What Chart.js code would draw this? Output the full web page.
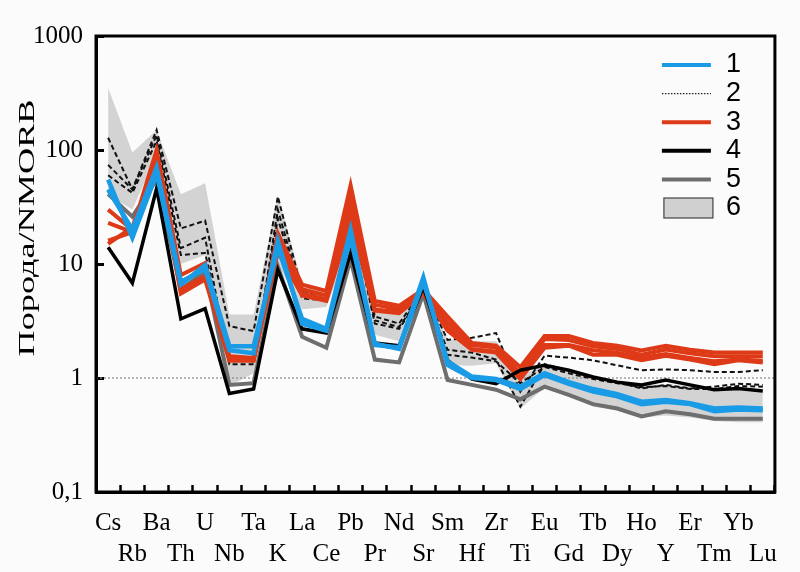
<!DOCTYPE html>
<html>
<head>
<meta charset="utf-8">
<title>Порода/NMORB</title>
<script src="https://cdn.jsdelivr.net/npm/chart.js@4.4.1/dist/chart.umd.min.js"></script>
<style>
  html, body { margin: 0; padding: 0; background: #fbfbfb; }
  #wrap { width: 800px; height: 572px; }
</style>
</head>
<body>
<div id="wrap"><canvas id="spider" width="800" height="572"></canvas></div>
<script>
// elements, normalised to N-MORB
const elements = ['Cs', 'Rb', 'Ba', 'Th', 'U', 'Nb', 'Ta', 'K', 'La', 'Ce', 'Pb', 'Pr', 'Nd', 'Sr',
  'Sm', 'Hf', 'Zr', 'Ti', 'Eu', 'Gd', 'Tb', 'Dy', 'Ho', 'Y', 'Er', 'Tm', 'Yb', 'Lu'];
const yTicks = [0.1, 1, 10, 100, 1000];
const refLevel = 1;

// 6 - field (upper / lower edge)
const fieldUpper = [350, 95, 150, 41, 51, 3.6, 3.6, 40, 6.8, 6.0, 38, 4.2, 3.6, 6.5, 2.2, 2.1, 2.1, 1.05, 1.3, 1.15, 1.0, 0.93, 0.86, 0.88, 0.85, 0.8, 0.8, 0.8];
const fieldLower = [40, 30, 90, 10, 12, 0.85, 1.1, 10, 4.0, 4.2, 15, 2.4, 2.1, 5.5, 1.3, 1.28, 1.35, 0.54, 0.82, 0.68, 0.56, 0.52, 0.45, 0.47, 0.45, 0.42, 0.41, 0.41];

// 1 - blue
const blue1 = [55, 17, 62, 6.6, 9.8, 1.9, 1.9, 14, 3.3, 2.7, 20, 1.95, 1.85, 7.6, 1.3, 1.0, 0.96, 0.8, 1.06, 0.89, 0.76, 0.69, 0.59, 0.62, 0.59, 0.51, 0.53, 0.52];
const blue2 = [45, 20, 70, 7.0, 9.0, 1.75, 1.65, 16, 3.0, 2.6, 17, 2.0, 1.8, 7.0, 1.4, 1.03, 0.98, 0.84, 1.1, 0.92, 0.8, 0.72, 0.62, 0.64, 0.6, 0.54, 0.55, 0.54];

// 2 - dashed
const dash1 = [128, 45, 150, 20.5, 24, 2.85, 2.58, 39, 5.8, 5.25, 35, 3.46, 3.0, 6.0, 2.16, 2.25, 2.48, 0.76, 1.57, 1.51, 1.43, 1.29, 1.17, 1.19, 1.17, 1.13, 1.13, 1.17];
const dash2 = [74, 45, 135, 13.8, 17, 1.32, 1.32, 30, 5.3, 5.0, 30, 3.2, 2.8, 5.7, 1.77, 1.67, 1.45, 0.56, 1.32, 1.17, 1.02, 0.92, 0.81, 0.87, 0.81, 0.84, 0.89, 0.87];
const dash3 = [60, 42, 120, 12, 12.5, 1.45, 1.4, 25, 5.0, 4.8, 28, 3.0, 2.7, 5.6, 1.6, 1.51, 1.4, 0.9, 1.25, 1.1, 0.98, 0.9, 0.83, 0.85, 0.8, 0.8, 0.85, 0.84];

// 3 - red
const red1 = [30, 20, 100, 8.0, 10.2, 1.55, 1.5, 18.6, 6.6, 5.8, 49, 4.75, 4.3, 6.0, 3.46, 2.03, 1.92, 1.24, 2.33, 2.33, 2.03, 1.92, 1.74, 1.92, 1.77, 1.67, 1.67, 1.67];
const red2 = [23, 19, 85, 7.0, 9.0, 1.5, 1.45, 16.7, 6.0, 5.3, 37, 4.4, 4.0, 5.8, 3.1, 1.95, 1.85, 1.1, 2.2, 2.15, 1.9, 1.8, 1.6, 1.78, 1.65, 1.55, 1.55, 1.55];
const red3 = [16, 19, 90, 6.0, 7.8, 1.42, 1.42, 14, 5.5, 4.9, 30, 4.0, 3.8, 5.6, 2.8, 1.8, 1.7, 1.0, 1.95, 1.95, 1.75, 1.67, 1.5, 1.62, 1.5, 1.4, 1.45, 1.42];
const red4 = [15, 21, 80, 5.5, 7.3, 1.45, 1.45, 12.8, 5.3, 4.75, 23, 3.9, 3.7, 5.5, 2.6, 1.77, 1.67, 0.98, 1.84, 1.92, 1.6, 1.6, 1.43, 1.57, 1.45, 1.32, 1.43, 1.37];

// 4 - black
const black1 = [14, 6.8, 46, 3.3, 4.06, 0.73, 0.8, 8.9, 2.7, 2.48, 12.5, 2.03, 1.92, 6.3, 1.43, 0.98, 0.89, 1.17, 1.29, 1.17, 1.02, 0.92, 0.87, 0.96, 0.87, 0.79, 0.81, 0.77];

// 5 - grey
const grey1 = [41, 26, 55, 6.0, 8.6, 0.87, 0.9, 9.5, 2.3, 1.84, 11, 1.45, 1.37, 5.5, 0.96, 0.87, 0.79, 0.65, 0.84, 0.71, 0.59, 0.54, 0.46, 0.51, 0.48, 0.44, 0.44, 0.44];

const BLUE = '#1a9be6';
const RED = '#de3a17';
const GREY = '#6e6e6e';
const FIELD = '#d3d3d3';

const legendItems = [
  { text: '1', color: BLUE, width: 4 },
  { text: '2', color: '#222', width: 1.3, dash: [1.5, 1.5] },
  { text: '3', color: RED, width: 4 },
  { text: '4', color: '#000', width: 4 },
  { text: '5', color: GREY, width: 4 },
  { text: '6', box: true }
];

const line = (data, color, width, order, dash) => ({
  data: data,
  borderColor: color,
  borderWidth: width,
  borderDash: dash || [],
  pointRadius: 0,
  tension: 0,
  fill: false,
  order: order
});

const frame = {
  id: 'frame',
  beforeDatasetsDraw(chart) {
    const { ctx, chartArea: a, scales } = chart;
    const y = scales.y.getPixelForValue(refLevel);
    ctx.save();
    ctx.strokeStyle = '#8a8a8a';
    ctx.lineWidth = 1.2;
    ctx.setLineDash([2, 2]);
    ctx.beginPath();
    ctx.moveTo(a.left, y);
    ctx.lineTo(a.right, y);
    ctx.stroke();
    ctx.restore();
  },
  afterDraw(chart) {
    const { ctx, chartArea: a } = chart;
    ctx.save();
    ctx.strokeStyle = '#000';
    ctx.lineWidth = 3;
    ctx.strokeRect(a.left, a.top, a.right - a.left, a.bottom - a.top);

    // y title, stretched along its length like the original
    const title = 'Порода/NMORB';
    ctx.translate(28, a.top + 192);
    ctx.rotate(-Math.PI / 2);
    ctx.font = '24px "Liberation Serif"';
    ctx.scale(257 / ctx.measureText(title).width, 1);
    ctx.fillStyle = '#000';
    ctx.textAlign = 'center';
    ctx.textBaseline = 'middle';
    ctx.fillText(title, 0, 0);
    ctx.restore();

    // legend
    ctx.save();
    const x0 = a.right - 113, x1 = a.right - 64;
    legendItems.forEach((it, i) => {
      const y = a.top + 29 + i * 28.6;
      if (it.box) {
        ctx.fillStyle = '#d0d0d0';
        ctx.fillRect(x0 + 2, y - 10, 49, 20);
        ctx.strokeStyle = '#444';
        ctx.lineWidth = 1.2;
        ctx.strokeRect(x0 + 2, y - 10, 49, 20);
      } else {
        ctx.strokeStyle = it.color;
        ctx.lineWidth = it.width;
        ctx.setLineDash(it.dash || []);
        ctx.beginPath();
        ctx.moveTo(x0, y);
        ctx.lineTo(x1, y);
        ctx.stroke();
        ctx.setLineDash([]);
      }
      ctx.fillStyle = '#000';
      ctx.font = '27px "Liberation Sans"';
      ctx.textAlign = 'left';
      ctx.textBaseline = 'middle';
      ctx.fillText(it.text, a.right - 49, y);
    });
    ctx.restore();
  }
};

new Chart(document.getElementById('spider').getContext('2d'), {
  type: 'line',
  data: {
    labels: elements.map((e, i) => i % 2 === 0 ? [e, ''] : ['', e]),
    datasets: [
      { data: fieldUpper, borderWidth: 0, pointRadius: 0, tension: 0, fill: '+1', backgroundColor: FIELD, order: 10 },
      { data: fieldLower, borderWidth: 0, pointRadius: 0, tension: 0, fill: false, order: 10 },
      line(dash1, '#111', 2, 8, [5, 3]),
      line(dash2, '#111', 2, 8, [5, 3]),
      line(dash3, '#111', 2, 8, [5, 3]),
      line(grey1, GREY, 4, 6),
      line(red4, RED, 4, 5),
      line(red3, RED, 4, 5),
      line(red2, RED, 4, 5),
      line(red1, RED, 4, 5),
      line(black1, '#000', 3.5, 3),
      line(blue2, BLUE, 4.5, 1),
      line(blue1, BLUE, 4.5, 1)
    ]
  },
  options: {
    responsive: false,
    animation: false,
    devicePixelRatio: 1,
    layout: { padding: { top: 25, right: 18, left: 0, bottom: 0 } },
    plugins: {
      legend: { display: false },
      tooltip: { enabled: false },
      filler: { drawTime: 'beforeDatasetsDraw' }
    },
    scales: {
      x: {
        type: 'category',
        offset: true,
        grid: { offset: true, drawOnChartArea: false, tickLength: -7, tickWidth: 2.5, color: '#000' },
        border: { width: 3, color: '#000' },
        ticks: {
          autoSkip: false,
          maxRotation: 0,
          color: '#000',
          padding: 23,
          font: { family: 'Liberation Serif', size: 25, lineHeight: 1.25 }
        },
        afterFit: (s) => { s.height = 80; }
      },
      y: {
        type: 'logarithmic',
        min: 0.1,
        max: 1000,
        afterBuildTicks: (s) => { s.ticks = yTicks.map(v => ({ value: v })); },
        grid: { drawOnChartArea: false, tickLength: -8, tickWidth: 3, color: '#000' },
        border: { width: 3, color: '#000' },
        ticks: {
          color: '#000',
          padding: 21,
          font: { family: 'Liberation Serif', size: 25 },
          callback: (v) => v === 0.1 ? '0,1' : String(v)
        },
        afterFit: (s) => { s.width = 96; }
      }
    }
  },
  plugins: [frame]
});
</script>
</body>
</html>
